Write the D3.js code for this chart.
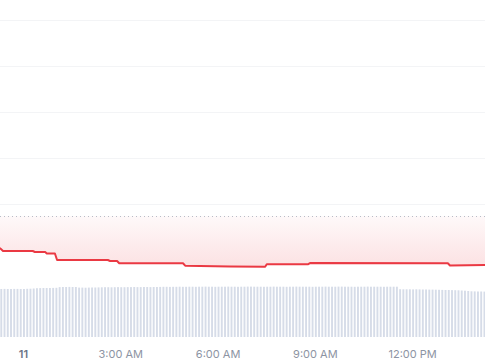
<!DOCTYPE html>
<html>
<head>
<meta charset="utf-8">
<script src="https://cdn.jsdelivr.net/npm/d3@7"></script>
<style>
  html, body { margin: 0; padding: 0; background: #fff; }
  svg { display: block; font-family: Inter, "Noto Sans", sans-serif; }
</style>
</head>
<body>
<div id="chart"></div>
<script>
// price points: minutes from midnight of the 11th, price
const priceMinutes = [-43, -37, 18, 22, 41, 44, 59, 63, 157, 161, 174, 178, 296, 300, 383, 448, 451, 527, 531, 786, 790, 855];
const priceValues = [95.043, 94.978, 94.978, 94.957, 94.957, 94.924, 94.924, 94.783, 94.783, 94.761, 94.761, 94.711,
  94.711, 94.659, 94.641, 94.637, 94.689, 94.689, 94.717, 94.711, 94.663, 94.674];
const openPrice = 95.739;
const gridPrices = [96, 97, 98, 99, 100];

// volume bars, one every 6 minutes starting at volStartMin
const volStartMin = -42;
const volStepMin = 6;
const volumeValues = [
  48.0, 48.1, 48.0, 48.0, 48.1, 48.1, 48.0, 48.0, 48.2, 48.3, 48.5,
  48.8, 48.9, 49.0, 49.0, 49.0, 49.1, 49.2,
  49.9, 50.0, 50.0, 50.1, 50.0, 50.0,
  49.4, 49.4, 49.3, 49.4, 49.5, 49.5, 49.6,
  49.7, 49.8, 49.8, 49.7, 49.8, 49.9, 49.8, 49.8, 49.9, 49.9, 50.0, 49.9, 49.9, 50.0, 50.0, 49.9, 50.0, 50.0, 50.1,
  50.2, 50.2, 50.1, 50.2, 50.2, 50.3, 50.2, 50.2, 50.3, 50.3, 50.2, 50.3, 50.3, 50.4, 50.3, 50.3, 50.2, 50.3,
  50.3, 50.3, 50.4, 50.3, 50.3, 50.2, 50.3, 50.3, 50.4, 50.4, 50.3, 50.3, 50.3, 50.2, 50.3, 50.3, 50.4, 50.3,
  50.3, 50.3, 50.2, 50.3, 50.3, 50.4, 50.3, 50.3, 50.3, 50.3, 50.2, 50.3, 50.3,
  50.3, 50.4, 50.3, 50.3, 50.3, 50.4, 50.4, 50.3, 50.3, 50.3, 50.2, 50.3, 50.3, 50.3, 50.4, 50.3, 50.3, 50.3,
  50.3, 50.2, 50.3, 50.3, 50.3, 50.3,
  47.8, 47.7, 47.7, 47.7, 47.6, 47.7, 47.6, 47.5, 47.5, 47.4, 47.4, 47.3, 47.2,
  47.1, 47.0, 47.0, 46.9, 46.8, 46.7, 46.5, 46.3, 46.0,
  45.7, 45.6, 45.5, 45.5, 45.4
];

// x axis ticks (hours from midnight) and labels
const tickHours = [0, 3, 6, 9, 12];
const tickLabels = ["11", "3:00 AM", "6:00 AM", "9:00 AM", "12:00 PM"];

const width = 485, height = 360;
const day = new Date(2024, 2, 11, 0, 0);
const atMin = m => new Date(day.getTime() + m * 60000);

const x = d3.scaleTime()
  .domain([atMin(-42.6), atMin(854.8)])
  .range([0, width]);

const y = d3.scaleLinear()
  .domain([95, 100])
  .range([250, 20]);

const yVol = d3.scaleLinear()
  .domain([0, 60])
  .range([337, 277]);

const svg = d3.select("#chart").append("svg")
  .attr("width", width)
  .attr("height", height);

// gradient for the area between open price and price line
const grad = svg.append("defs").append("linearGradient")
  .attr("id", "redFill")
  .attr("gradientUnits", "userSpaceOnUse")
  .attr("x1", 0).attr("x2", 0)
  .attr("y1", y(openPrice)).attr("y2", y(d3.min(priceValues)));
grad.append("stop").attr("offset", "0%").attr("stop-color", "#ea3943").attr("stop-opacity", 0.03);
grad.append("stop").attr("offset", "100%").attr("stop-color", "#ea3943").attr("stop-opacity", 0.15);

// grid lines
svg.append("g")
  .selectAll("line")
  .data(gridPrices)
  .enter().append("line")
  .attr("x1", 0).attr("x2", width)
  .attr("y1", d => Math.round(y(d)) + 0.5)
  .attr("y2", d => Math.round(y(d)) + 0.5)
  .attr("stroke", "#f3f4f6")
  .attr("stroke-width", 1);

// volume bars
svg.append("g")
  .selectAll("rect")
  .data(volumeValues)
  .enter().append("rect")
  .attr("x", (d, i) => x(atMin(volStartMin + i * volStepMin)))
  .attr("y", d => yVol(d))
  .attr("width", 1.9)
  .attr("height", d => yVol(0) - yVol(d))
  .attr("fill", "#d6dce8");

const pts = priceMinutes.map((m, i) => ({ t: atMin(m), p: priceValues[i] }));

// filled area between open price and price
svg.append("path")
  .datum(pts)
  .attr("d", d3.area()
    .x(d => x(d.t))
    .y0(y(openPrice))
    .y1(d => y(d.p)))
  .attr("fill", "url(#redFill)");

// open price dotted line
svg.append("line")
  .attr("x1", 0).attr("x2", width)
  .attr("y1", Math.round(y(openPrice)) + 0.5)
  .attr("y2", Math.round(y(openPrice)) + 0.5)
  .attr("stroke", "#b8bdc7")
  .attr("stroke-width", 1)
  .attr("stroke-dasharray", "1,3");

// price line
svg.append("path")
  .datum(pts)
  .attr("d", d3.line().x(d => x(d.t)).y(d => y(d.p)))
  .attr("fill", "none")
  .attr("stroke", "#ea3943")
  .attr("stroke-width", 2)
  .attr("stroke-linejoin", "round");

// x axis
const xAxis = svg.append("g")
  .attr("transform", "translate(0,342)")
  .call(d3.axisBottom(x)
    .tickValues(tickHours.map(h => atMin(h * 60)))
    .tickFormat((d, i) => tickLabels[i])
    .tickSize(0)
    .tickPadding(8));
xAxis.select(".domain").remove();
xAxis.selectAll("text")
  .attr("font-family", "Inter, 'Noto Sans', sans-serif")
  .attr("font-size", 11)
  .attr("fill", "#8d94a3")
  .attr("font-weight", (d, i) => i === 0 ? 600 : 400)
  .filter((d, i) => i === 0)
  .attr("fill", "#6b7385");
</script>
</body>
</html>
